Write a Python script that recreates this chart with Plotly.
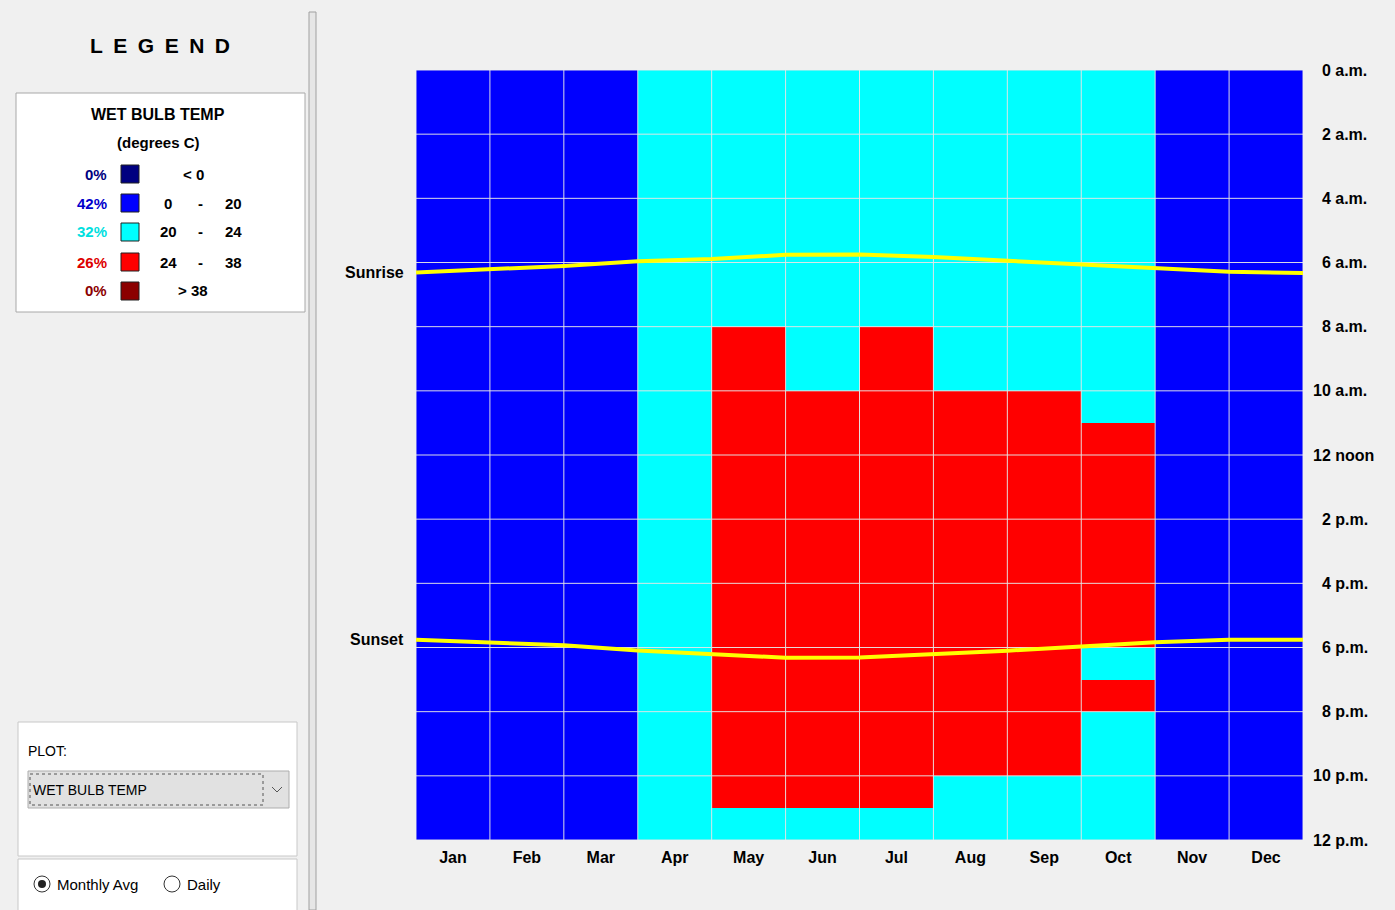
import plotly.graph_objects as go

# ---------------- data ----------------
months = ["Jan", "Feb", "Mar", "Apr", "May", "Jun", "Jul", "Aug", "Sep", "Oct", "Nov", "Dec"]
hours = list(range(24))
hour_ticks = [0, 2, 4, 6, 8, 10, 12, 14, 16, 18, 20, 22, 24]
hour_labels = ["\u20070 a.m.", "\u20072 a.m.", "\u20074 a.m.", "\u20076 a.m.", "\u20078 a.m.", "10 a.m.",
               "12 noon", "\u20072 p.m.", "\u20074 p.m.", "\u20076 p.m.", "\u20078 p.m.", "10 p.m.", "12 p.m."]

# category per hour (rows) and month (columns): 0:<0, 1:0-20, 2:20-24, 3:24-38, 4:>38
wet_bulb_bins = [
    [1, 1, 1, 2, 2, 2, 2, 2, 2, 2, 1, 1],  # 0
    [1, 1, 1, 2, 2, 2, 2, 2, 2, 2, 1, 1],  # 1
    [1, 1, 1, 2, 2, 2, 2, 2, 2, 2, 1, 1],  # 2
    [1, 1, 1, 2, 2, 2, 2, 2, 2, 2, 1, 1],  # 3
    [1, 1, 1, 2, 2, 2, 2, 2, 2, 2, 1, 1],  # 4
    [1, 1, 1, 2, 2, 2, 2, 2, 2, 2, 1, 1],  # 5
    [1, 1, 1, 2, 2, 2, 2, 2, 2, 2, 1, 1],  # 6
    [1, 1, 1, 2, 2, 2, 2, 2, 2, 2, 1, 1],  # 7
    [1, 1, 1, 2, 3, 2, 3, 2, 2, 2, 1, 1],  # 8
    [1, 1, 1, 2, 3, 2, 3, 2, 2, 2, 1, 1],  # 9
    [1, 1, 1, 2, 3, 3, 3, 3, 3, 2, 1, 1],  # 10
    [1, 1, 1, 2, 3, 3, 3, 3, 3, 3, 1, 1],  # 11
    [1, 1, 1, 2, 3, 3, 3, 3, 3, 3, 1, 1],  # 12
    [1, 1, 1, 2, 3, 3, 3, 3, 3, 3, 1, 1],  # 13
    [1, 1, 1, 2, 3, 3, 3, 3, 3, 3, 1, 1],  # 14
    [1, 1, 1, 2, 3, 3, 3, 3, 3, 3, 1, 1],  # 15
    [1, 1, 1, 2, 3, 3, 3, 3, 3, 3, 1, 1],  # 16
    [1, 1, 1, 2, 3, 3, 3, 3, 3, 3, 1, 1],  # 17
    [1, 1, 1, 2, 3, 3, 3, 3, 3, 2, 1, 1],  # 18
    [1, 1, 1, 2, 3, 3, 3, 3, 3, 3, 1, 1],  # 19
    [1, 1, 1, 2, 3, 3, 3, 3, 3, 2, 1, 1],  # 20
    [1, 1, 1, 2, 3, 3, 3, 3, 3, 2, 1, 1],  # 21
    [1, 1, 1, 2, 3, 3, 3, 2, 2, 2, 1, 1],  # 22
    [1, 1, 1, 2, 2, 2, 2, 2, 2, 2, 1, 1],  # 23
]

bin_labels = ["< 0", "0 - 20", "20 - 24", "24 - 38", "> 38"]
bin_colors = ["#000080", "#0000ff", "#00ffff", "#ff0000", "#8b0000"]
pct_colors = ["#000080", "#0000cc", "#00e0e0", "#dd0000", "#8b0000"]

# sunrise / sunset (hour of day) at month boundaries (start of Jan ... end of Dec)
sunrise = [6.31, 6.22, 6.11, 5.96, 5.89, 5.76, 5.75, 5.83, 5.94, 6.04, 6.18, 6.29, 6.33]
sunset = [17.76, 17.84, 17.93, 18.09, 18.21, 18.32, 18.31, 18.21, 18.10, 17.97, 17.84, 17.76, 17.76]

# ---------------- layout helpers ----------------
W, H = 1395, 910
PL, PR, PT, PB = 416, 1303, 70, 840
FONT = "Liberation Sans"


def X(px):
    return (px - PL) / (PR - PL)


def Y(py):
    return 1 - (py - PT) / (PB - PT)


def text(t, px, py, size=15, color="#000000", bold=True, anchor="center"):
    return dict(text=t, x=X(px), y=Y(py), xref="paper", yref="paper", showarrow=False,
                xanchor=anchor, yanchor="middle",
                font=dict(family=FONT, size=size, color=color, weight="bold" if bold else "normal"))


fig = go.Figure()

n = len(months)
colorscale = []
for i, c in enumerate(bin_colors):
    colorscale.append([i / len(bin_colors), c])
    colorscale.append([(i + 1) / len(bin_colors), c])

fig.add_trace(go.Heatmap(
    x=list(range(n)), y=[h + 0.5 for h in hours], z=wet_bulb_bins,
    colorscale=colorscale, zmin=-0.5, zmax=4.5, showscale=False, hoverinfo="skip",
))

# grid lines (month boundaries and every 2 hours)
gx, gy = [], []
for b in range(n + 1):
    gx += [b - 0.5, b - 0.5, None]
    gy += [0, 24, None]
for t in hour_ticks:
    gx += [-0.5, n - 0.5, None]
    gy += [t, t, None]
fig.add_trace(go.Scatter(x=gx, y=gy, mode="lines", line=dict(color="rgba(230,230,230,0.95)", width=1),
                         hoverinfo="skip", showlegend=False))

bx = [b - 0.5 for b in range(n + 1)]
for series in (sunrise, sunset):
    fig.add_trace(go.Scatter(x=bx, y=series, mode="lines", line=dict(color="#ffff00", width=4),
                             hoverinfo="skip", showlegend=False))

shapes = []
ann = []

# separator between panels
shapes.append(dict(type="rect", xref="paper", yref="paper", x0=X(309), x1=X(316), y0=Y(12), y1=Y(910),
                   fillcolor="#e6e6e6", line=dict(color="#a0a0a0", width=1), layer="below"))

# legend title
ann.append(text("L\u2002E\u2002G\u2002E\u2002N\u2002D", 160, 46, size=21))

# legend box
shapes.append(dict(type="rect", xref="paper", yref="paper", x0=X(16), x1=X(305), y0=Y(93), y1=Y(312),
                   fillcolor="#ffffff", line=dict(color="#a8a8a8", width=1), layer="below"))
ann.append(text("WET BULB TEMP", 158, 115, size=16))
ann.append(text("(degrees C)", 158, 142, size=15))

total = sum(len(r) for r in wet_bulb_bins)
counts = [sum(row.count(k) for row in wet_bulb_bins) for k in range(len(bin_labels))]
row_y = [174, 203, 232, 262, 291]
for k, lab in enumerate(bin_labels):
    yy = row_y[k]
    pct = round(100 * counts[k] / total)
    ann.append(text(f"{pct}%", 109, yy, color=pct_colors[k], anchor="right"))
    shapes.append(dict(type="rect", xref="paper", yref="paper", x0=X(121), x1=X(139), y0=Y(yy - 9), y1=Y(yy + 9),
                       fillcolor=bin_colors[k], line=dict(color="#202020", width=1)))
    parts = lab.split(" - ")
    if len(parts) == 2:
        ann.append(text(parts[0], 168, yy))
        ann.append(text("-", 200, yy))
        ann.append(text(parts[1], 233, yy))
    else:
        ann.append(text(lab, 193, yy))

# plot selector panel
shapes.append(dict(type="rect", xref="paper", yref="paper", x0=X(18), x1=X(297), y0=Y(722), y1=Y(856),
                   fillcolor="#ffffff", line=dict(color="#c8c8c8", width=1), layer="below"))
ann.append(text("PLOT:", 26, 751, size=14, bold=False, anchor="left"))
shapes.append(dict(type="rect", xref="paper", yref="paper", x0=X(28), x1=X(289), y0=Y(771), y1=Y(808),
                   fillcolor="#e1e1e1", line=dict(color="#adadad", width=1)))
shapes.append(dict(type="rect", xref="paper", yref="paper", x0=X(30), x1=X(263), y0=Y(774), y1=Y(805),
                   fillcolor="rgba(0,0,0,0)", line=dict(color="#555555", width=1, dash="dot")))
ann.append(text("WET BULB TEMP", 31, 790, size=14, bold=False, anchor="left"))
shapes.append(dict(type="path", xref="paper", yref="paper",
                   path=f"M {X(272)},{Y(787)} L {X(277)},{Y(792)} L {X(282)},{Y(787)}",
                   line=dict(color="#555555", width=1)))

# radio panel
shapes.append(dict(type="rect", xref="paper", yref="paper", x0=X(18), x1=X(297), y0=Y(859), y1=Y(912),
                   fillcolor="#ffffff", line=dict(color="#c8c8c8", width=1), layer="below"))
for cx, filled in ((42, True), (172, False)):
    shapes.append(dict(type="circle", xref="paper", yref="paper", x0=X(cx - 8), x1=X(cx + 8), y0=Y(876), y1=Y(892),
                       fillcolor="#ffffff", line=dict(color="#333333", width=1)))
    if filled:
        shapes.append(dict(type="circle", xref="paper", yref="paper", x0=X(cx - 4), x1=X(cx + 4), y0=Y(880),
                           y1=Y(888), fillcolor="#222222", line=dict(color="#222222", width=0)))
ann.append(text("Monthly Avg", 55, 884, size=15, bold=False, anchor="left"))
ann.append(text("Daily", 185, 884, size=15, bold=False, anchor="left"))

# sunrise / sunset labels
for lab, series in (("Sunrise", sunrise), ("Sunset", sunset)):
    ann.append(dict(text=lab, x=-0.5, y=series[0], xref="x", yref="y", showarrow=False, xanchor="right",
                    yanchor="middle", xshift=-10,
                    font=dict(family=FONT, size=16, color="#000000", weight="bold")))

fig.update_layout(
    width=W, height=H,
    margin=dict(l=PL, r=W - PR, t=PT, b=H - PB, pad=0),
    paper_bgcolor="#f0f0f0", plot_bgcolor="#f0f0f0",
    showlegend=False,
    shapes=shapes, annotations=ann,
    xaxis=dict(range=[-0.5, n - 0.5], tickvals=list(range(n)), ticktext=months, showgrid=False, zeroline=False,
               ticks="", ticklabelstandoff=6,
               tickfont=dict(family=FONT, size=16, color="#000000", weight="bold"), fixedrange=True),
    yaxis=dict(range=[24, 0], side="right", tickvals=hour_ticks, ticktext=hour_labels, showgrid=False,
               zeroline=False, ticks="", ticklabelstandoff=9,
               tickfont=dict(family=FONT, size=16, color="#000000", weight="bold"), fixedrange=True),
)

fig.write_html("out.html", config={"displayModeBar": False},
               post_script="document.body.style.margin='0';document.body.style.overflow='hidden';")
